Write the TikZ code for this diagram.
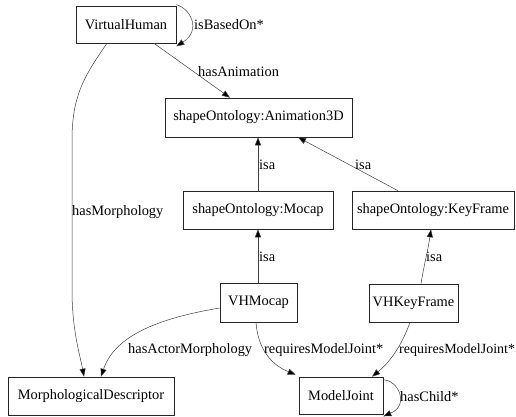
\documentclass[tikz,border=0pt]{standalone}
\usepackage{fontspec}
\setmainfont{Liberation Serif}
\usetikzlibrary{arrows.meta}
\begin{document}
\begin{tikzpicture}[x=1pt,y=-1pt,
  cls/.style={draw=black!85,line width=0.6pt,fill=white,inner sep=0pt,
    font=\fontsize{14.4}{16}\selectfont},
  rel/.style={draw=black!75,line width=0.5pt,
    -{Triangle[length=8pt,width=6pt,fill=black]}},
  lbl/.style={anchor=west,inner sep=0pt,font=\fontsize{14.4}{16}\selectfont}]
\useasboundingbox[fill=white] (0,0) rectangle (516,416);

% classes
\node[cls,minimum width=100pt,minimum height=37pt] (vh)  at (126,24.5) {VirtualHuman};
\node[cls,minimum width=187pt,minimum height=39pt] (a3d) at (258.5,117.5) {shapeOntology:Animation3D};
\node[cls,minimum width=150pt,minimum height=38pt] (moc) at (258,210) {shapeOntology:Mocap};
\node[cls,minimum width=162pt,minimum height=38pt] (kf)  at (433,210) {shapeOntology:KeyFrame};
\node[cls,minimum width=77pt,minimum height=39pt]  (vhm) at (258.5,302.5) {VHMocap};
\node[cls,minimum width=89pt,minimum height=38pt]  (vhk) at (413.5,303) {VHKeyFrame};
\node[cls,minimum width=166pt,minimum height=38pt] (md)  at (91,396) {MorphologicalDescriptor};
\node[cls,minimum width=84pt,minimum height=37pt]  (mj)  at (341,395.5) {ModelJoint};

% attachment points on the class boxes
\coordinate (vhTR) at ([yshift=1pt]vh.north east);
\coordinate (vhBR) at ([yshift=-3pt]vh.south east);
\coordinate (mjTR) at ([yshift=-3pt]mj.north east);
\coordinate (mjBR) at ([yshift=-2pt]mj.south east);

% relations
\draw[rel] (vhTR) .. controls (190,8) and (202,30) .. (vhBR);
\draw[rel] (vh.south -| 154,0) -- (a3d.north -| 230,0);
\draw[rel] (vh.south -| 107,0) .. controls (85,75) and (72,95) .. (72,140)
  -- (72,290) .. controls (72,330) and (80,355) .. (md.north -| 84,0);
\draw[rel] (moc.north -| 258,0) -- (a3d.south -| 258,0);
\draw[rel] (kf.north -| 398,0) -- (a3d.south -| 298,0);
\draw[rel] (vhm.north -| 258,0) -- (moc.south -| 258,0);
\draw[rel] (vhk.north -| 421,0) .. controls (424,265) and (428,250) .. (kf.south -| 431,0);
\draw[rel] (vhm.west |- 0,308) .. controls (160,318) and (115,335) .. (md.north -| 101,0);
\draw[rel] (vhm.south -| 256,0) .. controls (258,350) and (272,365) .. ([xshift=-3pt,yshift=2pt]mj.north west);
\draw[rel] (vhk.south -| 410,0) .. controls (402,345) and (390,362) .. (mj.north -| 372,0);
\draw[rel] (mjTR) .. controls (398,380) and (410,405) .. (mjBR);

% relation labels
\node[lbl] (l1)  at (194,25)  {isBasedOn*};
\node[lbl] (l2)  at (198,72)  {hasAnimation};
\node[lbl] (l3)  at (72,212)  {hasMorphology};
\node[lbl] (l4)  at (259,165) {isa};
\node[lbl] (l5)  at (355,165) {isa};
\node[lbl] (l6)  at (259,257) {isa};
\node[lbl] (l7)  at (426,257) {isa};
\node[lbl] (l8)  at (128,350) {hasActorMorphology};
\node[lbl] (l9)  at (264,350) {requiresModelJoint*};
\node[lbl,font=\fontsize{14}{16}\selectfont] (l10) at (399,350) {requiresModelJoint*};
\node[lbl] (l11) at (400,397) {hasChild*};
\end{tikzpicture}
\end{document}
